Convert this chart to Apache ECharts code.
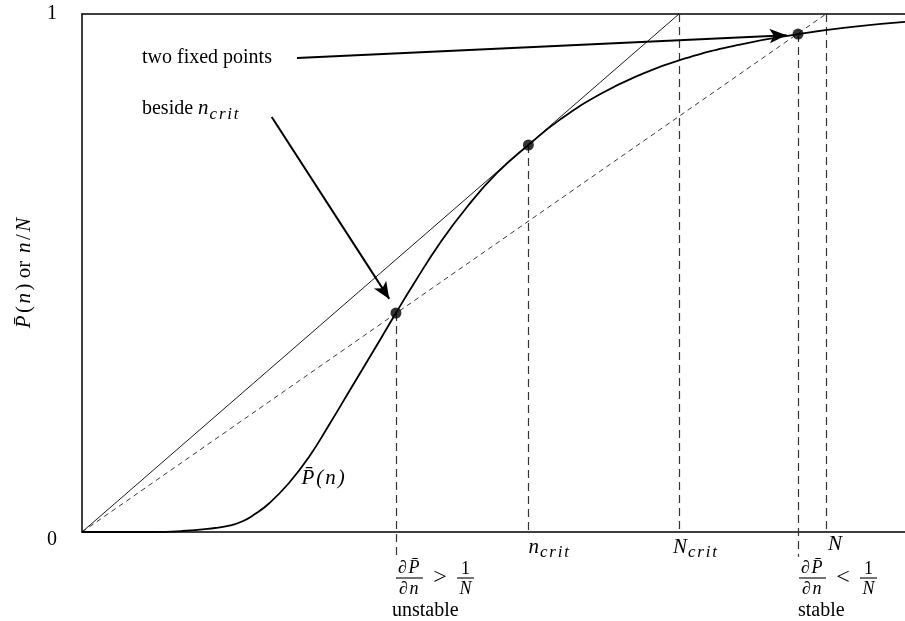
<!DOCTYPE html>
<html><head><meta charset="utf-8">
<script src="https://cdn.jsdelivr.net/npm/echarts@6/dist/echarts.min.js"></script>
<style>html,body{margin:0;padding:0;background:#fff}#c{width:905px;height:621px}</style>
</head><body><div id="c"></div>
<script>
// ---- data (n in units where N = 100; P and n/N in 0..1) ----
const N = 100;
const nCrit = 60;
const NCrit = 80.24;
const nUnstable = 42.2;
const nStable = 96.24;
const xMax = 110.62;
const curveN = [0, 9.14, 13.44, 17.88, 19.62, 21.51, 23.25, 25.13, 27.82, 30.51, 33.20, 36.02, 40.05, 42.20, 44.49, 48.12, 51.75, 55.78, 60.00, 64.25, 69.62, 75.00, 80.24, 88.44, 96.24, 103.23, 110.62];
const curveP = [0, 0.0000, 0.0019, 0.0077, 0.0116, 0.0203, 0.0347, 0.0550, 0.0946, 0.1448, 0.2066, 0.2741, 0.3707, 0.4228, 0.4768, 0.5579, 0.6274, 0.6931, 0.7471, 0.7961, 0.8452, 0.8826, 0.9104, 0.9411, 0.9612, 0.9747, 0.9847];
const fixedN = [nUnstable, nCrit, nStable];
const fixedP = [0.4228, 0.7471, 0.9612];
const vLineX = [nUnstable, nCrit, NCrit, nStable, N];
const vLineTop = [0.4228, 0.7471, 1, 0.9612, 1];
const vLineBottom = [-0.048, 0, 0, -0.048, 0];
const yTicks = [0, 1];

const SERIF = '"Liberation Serif","Times New Roman","DejaVu Serif",serif';
const chart = echarts.init(document.getElementById('c'));

const axisLineStyle = {color: '#000', width: 1.5};
chart.setOption({
  animation: false,
  backgroundColor: '#fff',
  grid: {left: 82, top: 14, right: 0, bottom: 89, containLabel: false},
  xAxis: [
    {type: 'value', min: 0, max: xMax, position: 'bottom',
     axisLine: {show: true, onZero: false, lineStyle: axisLineStyle},
     axisTick: {show: false}, axisLabel: {show: false}, splitLine: {show: false}},
    {type: 'value', min: 0, max: xMax, position: 'top',
     axisLine: {show: true, onZero: false, lineStyle: axisLineStyle},
     axisTick: {show: false}, axisLabel: {show: false}, splitLine: {show: false}}
  ],
  yAxis: {
    type: 'value', min: yTicks[0], max: yTicks[1], interval: 1,
    axisLine: {show: true, onZero: false, lineStyle: axisLineStyle},
    axisTick: {show: false}, splitLine: {show: false},
    axisLabel: {
      margin: 25, color: '#000', fontFamily: SERIF, fontSize: 20,
      formatter: v => v === 0 ? '{z|0}' : '{o|1}',
      rich: {z: {fontFamily: SERIF, fontSize: 20, padding: [16, 0, 0, 0]},
             o: {fontFamily: SERIF, fontSize: 20}}
    },
    name: '{i|P\u0304}{r|(}{i|n}{r|) or }{i|n}{r|/}{i|N}',
    nameLocation: 'middle', nameGap: 47, nameRotate: 90,
    nameTextStyle: {rich: {
      i: {fontFamily: SERIF, fontStyle: 'italic', fontSize: 21, color: '#000', padding: [0, 1.5, 0, 1.5]},
      r: {fontFamily: SERIF, fontSize: 21, color: '#000', padding: [0, 1, 0, 1]}
    }}
  },
  series: [
    {name: 'P(n)', type: 'line', smooth: 0.5, showSymbol: false, silent: true,
     data: curveN.map((n, i) => [n, curveP[i]]),
     lineStyle: {color: '#000', width: 1.8}, z: 5},
    {name: 'n/Ncrit', type: 'line', showSymbol: false, silent: true,
     data: [[0, 0], [NCrit, 1]], lineStyle: {color: '#000', width: 0.9}},
    {name: 'n/N', type: 'line', showSymbol: false, silent: true,
     data: [[0, 0], [N, 1]], lineStyle: {color: '#222', width: 0.9, type: [5, 4]}},
    {name: 'verticals', type: 'lines', coordinateSystem: 'cartesian2d', clip: false, silent: true,
     symbol: 'none',
     lineStyle: {color: '#333', width: 1.2, type: [8, 5], opacity: 1, curveness: 0},
     data: vLineX.map((x, i) => ({coords: [[x, vLineTop[i]], [x, vLineBottom[i]]]}))},
    {name: 'arrows', type: 'lines', coordinateSystem: 'cartesian2d', clip: false, silent: true,
     symbol: ['none', 'arrow'], symbolSize: [0, [11, 17]],
     lineStyle: {color: '#000', width: 2, opacity: 1, curveness: 0},
     data: [
       {coords: [[28.9, 0.915], [94.7, 0.959]]},
       {coords: [[25.5, 0.801], [41.3, 0.450]]}
     ], z: 6},
    {name: 'fixed points', type: 'scatter', symbolSize: 11, silent: true,
     data: fixedN.map((n, i) => [n, fixedP[i]]),
     itemStyle: {color: '#000'}, z: 7}
  ]
});

// ---- annotations placed through the chart's own coordinate conversion ----
const ctx = document.createElement('canvas').getContext('2d');
function tw(t, font) { ctx.font = font; return ctx.measureText(t).width; }
const F = {
  r: '20px ' + SERIF,
  i: 'italic 21px ' + SERIF,
  s: 'italic 17px ' + SERIF,
  fr: '18px ' + SERIF,
  fi: 'italic 18px ' + SERIF,
  rel: '24px ' + SERIF
};
function txt(t, x, y, font, align) {
  return {type: 'text', silent: true, z: 100, x: x, y: y,
    style: {text: t, font: font, fill: '#000', align: align || 'left', verticalAlign: 'middle',
            textAlign: align || 'left', textVerticalAlign: 'middle'}};
}
// parts: [text, fontKey, dy, letterSpacing]
function layoutRow(parts, x, y, emit) {
  let cx = x;
  parts.forEach(p => {
    const font = F[p[1]], dy = p[2] || 0, ls = p[3] || 0;
    const glyphs = ls ? p[0].match(/.[\u0300-\u036f]*/g) : [p[0]];
    glyphs.forEach(g => {
      if (emit) emit.push(txt(g, cx, y + dy, font));
      cx += tw(g, font) + ls;
    });
  });
  return cx - x;
}
function mathRow(parts, x, y, out) { layoutRow(parts, x, y, out); }
function centeredRow(parts, cx, y, out) {
  const w = layoutRow(parts, 0, 0, null);
  layoutRow(parts, cx - w / 2, y, out);
}
function bar(x1, x2, y) {
  return {type: 'line', silent: true, z: 100,
    shape: {x1: x1, y1: y, x2: x2, y2: y}, style: {stroke: '#000', lineWidth: 1.1}};
}

function build() {
  const P = (x, y) => chart.convertToPixel({gridIndex: 0}, [x, y]);
  const y0 = P(0, 0)[1];
  const els = [];
  let p = P(8.06, 0.915);
  mathRow([['two fixed points', 'r']], p[0], p[1], els);
  p = P(8.06, 0.817);
  mathRow([['beside ', 'r'], ['n', 'i', 0, 1], ['crit', 's', 6, 1.8]], p[0], p[1], els);
  p = P(29.5, 0.104);
  mathRow([['P\u0304(n)', 'i', 0, 2]], p[0], p[1], els);
  // x-axis labels
  mathRow([['n', 'i', 0, 1], ['crit', 's', 6, 1.8]], P(nCrit, 0)[0], y0 + 15, els);
  mathRow([['N', 'i', 0, 1], ['crit', 's', 6, 1.8]], P(NCrit, 0)[0] - 6, y0 + 15, els);
  mathRow([['N', 'i']], P(N, 0)[0] + 2, y0 + 12, els);
  // stability fractions
  function frac(xl, relSym, word, wordDx) {
    const c1 = xl + 13.5;
    els.push(bar(xl, xl + 27, y0 + 46));
    centeredRow([['\u2202P\u0304', 'fi', 0, 1.5]], c1, y0 + 36, els);
    centeredRow([['\u2202n', 'fi', 0, 1.5]], c1, y0 + 57, els);
    els.push(txt(relSym, xl + 44, y0 + 46, F.rel, 'center'));
    const c2 = xl + 69.5;
    els.push(bar(xl + 61, xl + 78, y0 + 46));
    els.push(txt('1', c2, y0 + 37, F.fr, 'center'));
    els.push(txt('N', c2, y0 + 57, F.fi, 'center'));
    els.push(txt(word, xl + wordDx, y0 + 79, F.r, 'left'));
  }
  frac(P(nUnstable, 0)[0], '>', 'unstable', -4);
  frac(P(nStable, 0)[0] + 1, '<', 'stable', -1);
  chart.setOption({graphic: {elements: els}});
}
build();
</script>
</body></html>
